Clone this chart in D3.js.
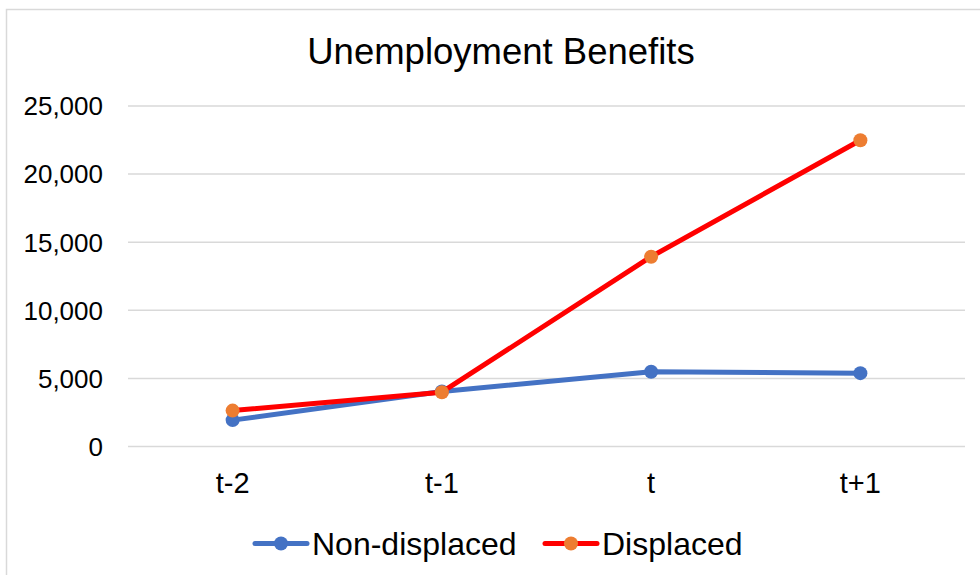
<!DOCTYPE html>
<html>
<head>
<meta charset="utf-8">
<script src="https://cdn.jsdelivr.net/npm/d3@7"></script>
<style>
  body { margin: 0; background: #fff; }
  svg { font-family: "Liberation Sans", Arial, sans-serif; }
</style>
</head>
<body>
<div id="chart-div"></div>
<script>
// Chart data
const categories = ["t-2", "t-1", "t", "t+1"]
const nonDisplaced = [1900, 4000, 5450, 5350]
const displaced = [2600, 3950, 13900, 22450]
const yTickValues = [0, 5000, 10000, 15000, 20000, 25000]
const seriesNames = ["Non-displaced", "Displaced"]

const CHART_WIDTH = 980
const CHART_HEIGHT = 575

const svg = d3.select("#chart-div").append("svg")
  .attr("width", CHART_WIDTH)
  .attr("height", CHART_HEIGHT)

// chart frame
svg.append("rect")
  .attr("x", 6.5).attr("y", 9.5)
  .attr("width", 990).attr("height", 600)
  .attr("fill", "#fff")
  .attr("stroke", "#d9d9d9")
  .attr("stroke-width", 1.5)

const marginLeft = 128
const marginRight = 15
const marginTop = 105.5
const plotBottom = 446

const x = d3.scaleBand()
  .domain(categories)
  .range([marginLeft, CHART_WIDTH - marginRight])

const y = d3.scaleLinear()
  .domain([0, 25000])
  .range([plotBottom, marginTop])

// title
svg.append("text")
  .attr("x", 501).attr("y", 64)
  .attr("text-anchor", "middle")
  .attr("font-size", 36.5)
  .attr("fill", "#000")
  .text("Unemployment Benefits")

// gridlines + y labels
const yAxis = svg.append("g")
  .attr("transform", `translate(${marginLeft},0)`)
  .call(d3.axisLeft(y).tickValues(yTickValues)
    .tickSize(-(CHART_WIDTH - marginRight - marginLeft))
    .tickPadding(25)
    .tickFormat(d3.format(",")))
yAxis.select(".domain").remove()
yAxis.selectAll(".tick line").attr("stroke", "#d9d9d9").attr("stroke-width", 1.5)
yAxis.selectAll(".tick text").attr("font-size", 26).attr("fill", "#000")
  .attr("font-family", "Liberation Sans, Arial, sans-serif")
  .attr("dy", "0.36em")

// x labels
const xAxis = svg.append("g")
  .attr("transform", `translate(0,${plotBottom})`)
  .call(d3.axisBottom(x).tickSize(0).tickPadding(26))
xAxis.select(".domain").remove()
xAxis.selectAll(".tick text").attr("font-size", 29).attr("fill", "#000")
  .attr("font-family", "Liberation Sans, Arial, sans-serif")

const cx = d => x(d) + x.bandwidth() / 2

const series = [
  { name: seriesNames[0], values: nonDisplaced, line: "#4472C4", dot: "#4472C4" },
  { name: seriesNames[1], values: displaced, line: "#FF0000", dot: "#ED7D31" }
]

const line = d3.line()
  .x((d, i) => cx(categories[i]))
  .y(d => y(d))

for (let s of series) {
  svg.append("path")
    .datum(s.values)
    .attr("d", line)
    .attr("fill", "none")
    .attr("stroke", s.line)
    .attr("stroke-width", 5)
    .attr("stroke-linejoin", "round")
    .attr("stroke-linecap", "round")
  svg.append("g").selectAll("circle")
    .data(s.values)
    .join("circle")
      .attr("cx", (d, i) => cx(categories[i]))
      .attr("cy", d => y(d))
      .attr("r", 7)
      .attr("fill", s.dot)
}

// legend
const legendX = [255, 545]
const legendY = 543.5
series.forEach((s, i) => {
  const g = svg.append("g").attr("transform", `translate(${legendX[i]},${legendY})`)
  g.append("line")
    .attr("x1", 0).attr("x2", 52)
    .attr("stroke", s.line).attr("stroke-width", 5)
    .attr("stroke-linecap", "round")
  g.append("circle").attr("cx", 26).attr("r", 7).attr("fill", s.dot)
  g.append("text")
    .attr("x", 57).attr("y", 11)
    .attr("font-size", 32)
    .attr("fill", "#000")
    .text(s.name)
})
</script>
</body>
</html>
